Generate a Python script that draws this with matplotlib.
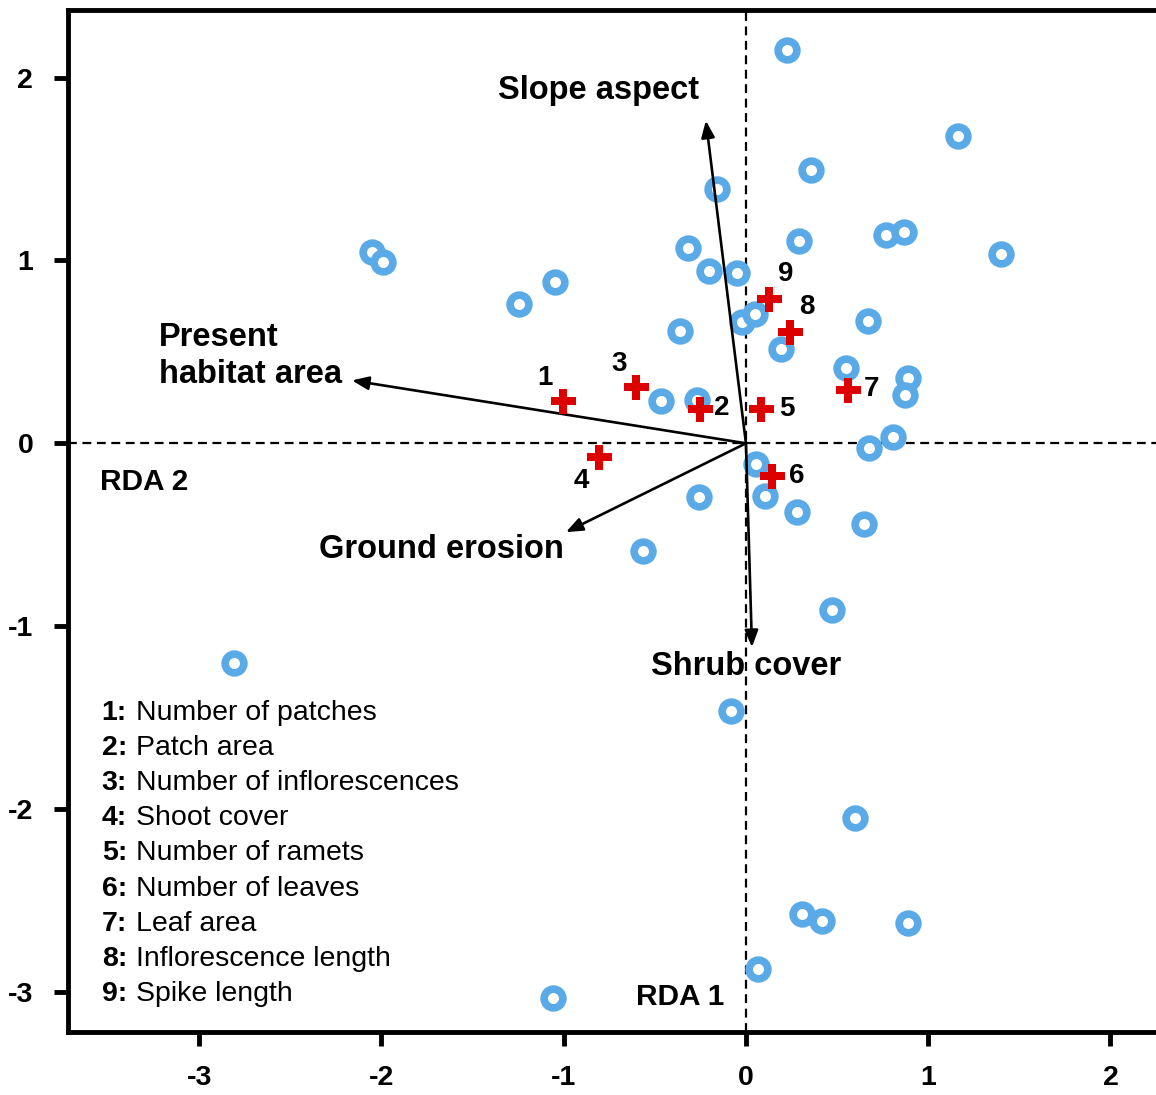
import matplotlib
matplotlib.use('Agg')
import matplotlib.pyplot as plt

plt.rcParams['font.family'] = ['Liberation Sans', 'DejaVu Sans']

# 样方得分 (蓝色圆圈)
site_x = [0.225, 1.164, 0.357, -0.159, -2.053, -1.992, -0.318, 0.291, 0.768, 0.867,
          1.400, -0.203, -0.049, -1.048, -1.246, -0.362, -0.022, 0.049, 0.670, 0.192,
          0.549, 0.889, 0.873, -0.467, -0.269, 0.807, 0.675, 0.055, -0.258, 0.104,
          0.280, 0.648, -0.565, 0.472, -2.810, -0.082, 0.598, 0.307, 0.417, 0.889,
          0.066, -1.059]
site_y = [2.153, 1.683, 1.497, 1.393, 1.049, 0.989, 1.066, 1.104, 1.142, 1.158,
          1.033, 0.945, 0.929, 0.880, 0.760, 0.612, 0.661, 0.705, 0.667, 0.514,
          0.410, 0.355, 0.262, 0.230, 0.235, 0.033, -0.027, -0.115, -0.295, -0.290,
          -0.377, -0.443, -0.590, -0.913, -1.202, -1.464, -2.049, -2.574, -2.612, -2.623,
          -2.874, -3.033]

# 性状得分 (红色十字)
trait_ids = ['1', '2', '3', '4', '5', '6', '7', '8', '9']
trait_x = [-1.004, -0.252, -0.604, -0.807, 0.082, 0.143, 0.560, 0.241, 0.126]
trait_y = [0.230, 0.186, 0.306, -0.077, 0.186, -0.180, 0.290, 0.607, 0.792]
trait_names = ['Number of patches', 'Patch area', 'Number of inflorescences',
               'Shoot cover', 'Number of ramets', 'Number of leaves', 'Leaf area',
               'Inflorescence length', 'Spike length']

# 环境变量箭头
env_names = ['Slope aspect', 'Present\nhabitat area', 'Ground erosion', 'Shrub cover']
env_x = [-0.220, -2.162, -0.988, 0.033]
env_y = [1.765, 0.344, -0.486, -1.115]

fig = plt.figure(figsize=(11.56, 10.95), dpi=100)
ax = fig.add_axes([68 / 1156, 63 / 1095, 1 - 68 / 1156, 1022 / 1095])
ax.set_xlim(-3.72, 2.25)
ax.set_ylim(-3.22, 2.37)

ax.axhline(0, color='black', linestyle=(0, (4, 2.5)), linewidth=1.6, zorder=1)
ax.axvline(0, color='black', linestyle=(0, (4, 2.5)), linewidth=1.6, zorder=1)

ax.plot(site_x, site_y, 'o', markersize=13.5, markerfacecolor='white',
        markeredgecolor='#5AAAE8', markeredgewidth=5.5, linestyle='none', zorder=2)

for ex, ey in zip(env_x, env_y):
    ax.annotate('', xy=(ex, ey), xytext=(0, 0),
                arrowprops=dict(arrowstyle='-|>,head_length=1.0,head_width=0.4',
                                color='black', lw=1.9, shrinkA=0, shrinkB=0), zorder=3)

ax.plot(trait_x, trait_y, 'P', markersize=18, color='#DD0000', markeredgewidth=0,
        linestyle='none', zorder=4)

# 数字标签的偏移 (points)
offsets = [(-13, 17), (16, 1), (-12, 17), (-13, -17), (19, 0), (18, 0), (17, 1), (12, 18), (12, 18)]
for tid, tx, ty, off in zip(trait_ids, trait_x, trait_y, offsets):
    ax.annotate(tid, xy=(tx, ty), xytext=off, textcoords='offset points',
                ha='center', va='center', fontsize=20, fontweight='bold', zorder=5)

bold = dict(fontsize=23.5, fontweight='bold', zorder=5)
ax.text(-0.81, 1.93, env_names[0], ha='center', va='center', **bold)
ax.text(-3.22, 0.48, env_names[1], ha='left', va='center', linespacing=1.25, **bold)
ax.text(-1.67, -0.58, env_names[2], ha='center', va='center', **bold)
ax.text(0.0, -1.22, env_names[3], ha='center', va='center', **bold)

ax.text(-3.30, -0.21, 'RDA 2', ha='center', va='center', fontsize=21.5, fontweight='bold')
ax.text(-0.36, -3.03, 'RDA 1', ha='center', va='center', fontsize=21.5, fontweight='bold')

for i, (tid, name) in enumerate(zip(trait_ids, trait_names)):
    yy = -1.474 - 0.1924 * i
    ax.text(-3.535, yy, tid + ':', ha='left', va='center', fontsize=20.5, fontweight='bold')
    ax.text(-3.345, yy, name, ha='left', va='center', fontsize=20.5)

ax.set_xticks([-3, -2, -1, 0, 1, 2])
ax.set_yticks([-3, -2, -1, 0, 1, 2])
ax.set_xticklabels(['-3', '-2', '-1', '0', '1', '2'], fontsize=20.5, fontweight='bold')
ax.set_yticklabels(['-3', '-2', '-1', '0', '1', '2'], fontsize=20.5, fontweight='bold')
ax.tick_params(axis='x', direction='out', length=10, width=3.5, pad=14)
ax.tick_params(axis='y', direction='out', length=10, width=3.5, pad=15)
ax.spines['right'].set_visible(False)
for s in ['left', 'bottom', 'top']:
    ax.spines[s].set_linewidth(3.5)

plt.savefig('out.png', dpi=100)
plt.close()
